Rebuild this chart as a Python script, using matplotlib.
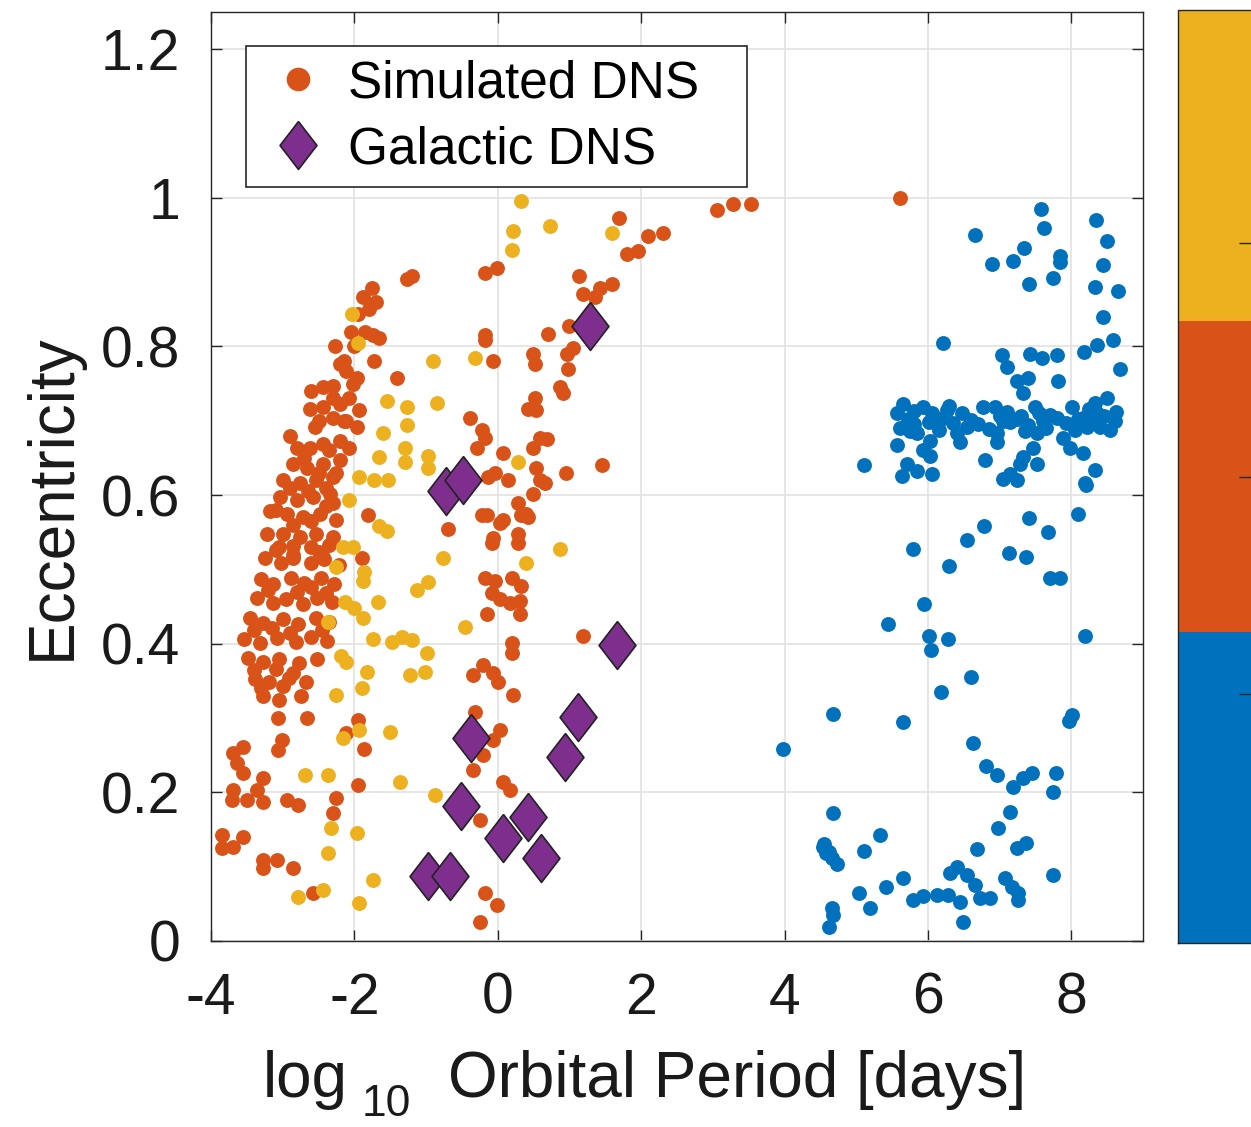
import numpy as np
import matplotlib.pyplot as plt
from matplotlib.lines import Line2D
from matplotlib.colors import ListedColormap, BoundaryNorm
from matplotlib.cm import ScalarMappable

plt.rcParams['font.family'] = ['Liberation Sans', 'DejaVu Sans']
plt.rcParams['axes.unicode_minus'] = False

# simulated DNS, three populations (log10 P [days], eccentricity)
sim_orange = [
    (3.06, 0.984), (3.28, 0.992), (3.53, 0.992), (5.61, 1.000),
    (1.69, 0.973), (2.09, 0.949), (2.30, 0.952), (1.80, 0.925), (1.95, 0.929),
    (1.14, 0.895), (1.42, 0.879), (1.60, 0.884), (1.19, 0.871), (1.35, 0.866),
    (1.00, 0.828), (0.70, 0.817), (-0.18, 0.899), (-0.01, 0.906),
    (-0.18, 0.815), (-0.18, 0.808), (-0.06, 0.780), (0.49, 0.790), (0.52, 0.777),
    (0.96, 0.790), (1.05, 0.798), (0.98, 0.770), (0.87, 0.745), (0.91, 0.738),
    (0.52, 0.731), (0.42, 0.716), (0.54, 0.714),
    (-0.39, 0.704), (-0.22, 0.687), (-0.18, 0.677), (-0.29, 0.663), (0.07, 0.657),
    (0.59, 0.677), (0.68, 0.676), (0.49, 0.664), (1.45, 0.640), (0.95, 0.630),
    (-0.04, 0.630), (-0.14, 0.624), (0.14, 0.620), (0.54, 0.637), (0.59, 0.620),
    (0.66, 0.616), (0.49, 0.602), (0.28, 0.589), (0.40, 0.575), (-0.15, 0.573),
    (0.03, 0.562), (-0.70, 0.555), (0.28, 0.548), (-0.07, 0.542),
    (-0.22, 0.573), (0.07, 0.566), (0.33, 0.573), (0.42, 0.570), (-0.08, 0.536), (0.28, 0.536),
    (-1.81, 0.573), (-1.90, 0.515),
    (-0.18, 0.489), (-0.04, 0.484), (0.20, 0.489), (0.33, 0.478), (-0.08, 0.468),
    (0.03, 0.460), (0.17, 0.455), (0.31, 0.457), (-0.15, 0.440), (0.31, 0.440),
    (0.20, 0.401), (0.20, 0.387), (1.19, 0.411),
    (-0.21, 0.371), (-0.35, 0.358), (-0.07, 0.360), (0.00, 0.348), (0.21, 0.331),
    (-0.32, 0.308), (0.03, 0.284), (-0.07, 0.270), (-0.21, 0.250), (-0.35, 0.230),
    (0.07, 0.214), (0.17, 0.203), (-0.25, 0.163), (-0.18, 0.065), (-0.01, 0.048), (-0.25, 0.026),
    (-1.95, 0.298), (-2.11, 0.280), (-1.86, 0.259), (-1.95, 0.210), (-2.25, 0.192),
    (-2.30, 0.172), (-2.66, 0.300), (-3.07, 0.300), (-3.01, 0.270), (-3.07, 0.257),
    (-3.56, 0.261), (-3.70, 0.253), (-3.64, 0.239), (-3.56, 0.226), (-3.28, 0.219),
    (-3.36, 0.203), (-3.28, 0.187), (-3.70, 0.203), (-3.71, 0.190), (-3.50, 0.190),
    (-2.94, 0.190), (-2.79, 0.183), (-3.84, 0.142), (-3.56, 0.140), (-3.85, 0.125),
    (-3.70, 0.126), (-3.28, 0.109), (-3.08, 0.109), (-3.28, 0.098), (-2.86, 0.098), (-2.58, 0.065),
    (-1.27, 0.891), (-1.20, 0.895), (-1.88, 0.866), (-1.76, 0.878), (-1.95, 0.844),
    (-2.27, 0.801), (-1.74, 0.815), (-1.65, 0.812), (-1.72, 0.781), (-1.41, 0.758),
    (-2.20, 0.777), (-2.11, 0.767), (-1.97, 0.758), (-2.44, 0.745), (-2.30, 0.747),
    (-2.02, 0.750), (-2.62, 0.716), (-2.44, 0.718), (-2.20, 0.723), (-2.07, 0.730),
    (-1.93, 0.714), (-2.55, 0.691), (-2.30, 0.704), (-2.11, 0.700), (-1.97, 0.691),
    (-2.80, 0.664), (-2.62, 0.664), (-2.44, 0.669), (-2.20, 0.673), (-2.07, 0.664),
    (-2.86, 0.642), (-2.66, 0.637), (-2.44, 0.642), (-2.20, 0.647), (-3.00, 0.620),
    (-2.76, 0.616), (-2.53, 0.620), (-2.30, 0.624), (-3.04, 0.597), (-2.80, 0.593),
    (-2.58, 0.597), (-2.34, 0.602), (-3.18, 0.579), (-2.94, 0.575), (-2.72, 0.570),
    (-2.48, 0.575), (-2.25, 0.566), (-3.22, 0.548), (-3.00, 0.548), (-2.76, 0.543),
    (-2.53, 0.548), (-2.30, 0.543),
    (-2.90, 0.680), (-2.70, 0.650), (-2.50, 0.630), (-2.35, 0.660), (-2.90, 0.610),
    (-2.65, 0.605), (-2.40, 0.610), (-3.10, 0.580), (-2.85, 0.560), (-2.60, 0.565),
    (-2.40, 0.585), (-3.05, 0.530), (-2.85, 0.520), (-2.60, 0.530), (-2.45, 0.520),
    (-2.30, 0.590), (-2.25, 0.630), (-2.15, 0.700), (-2.30, 0.730), (-2.50, 0.700),
    (-2.60, 0.740), (-2.15, 0.780), (-2.00, 0.800), (-1.85, 0.820), (-2.05, 0.820),
    (-1.80, 0.850), (-1.70, 0.860),
    (-3.25, 0.515), (-3.02, 0.508), (-2.85, 0.516), (-2.60, 0.509), (-2.43, 0.514), (-2.21, 0.506),
    (-3.30, 0.487), (-3.13, 0.481), (-2.88, 0.489), (-2.70, 0.482), (-2.46, 0.488), (-2.28, 0.480),
    (-3.36, 0.461), (-3.14, 0.455), (-2.95, 0.460), (-2.71, 0.454), (-2.52, 0.462), (-2.31, 0.456),
    (-3.45, 0.434), (-3.27, 0.428), (-3.00, 0.433), (-2.78, 0.427), (-2.54, 0.435), (-2.35, 0.429),
    (-3.54, 0.407), (-3.31, 0.401), (-3.08, 0.408), (-2.82, 0.402), (-2.60, 0.409), (-2.38, 0.403),
    (-3.48, 0.381), (-3.28, 0.375), (-3.05, 0.380), (-2.77, 0.374), (-2.52, 0.379),
    (-3.38, 0.353), (-3.19, 0.348), (-2.91, 0.354), (-2.68, 0.349),
    (-3.27, 0.329), (-3.05, 0.324), (-2.74, 0.330),
    (-3.10, 0.526), (-2.85, 0.531), (-2.50, 0.524), (-2.35, 0.533),
    (-3.20, 0.472), (-2.80, 0.470), (-2.60, 0.476), (-2.40, 0.468),
    (-3.40, 0.418), (-3.15, 0.421), (-2.90, 0.415), (-2.45, 0.419),
    (-3.40, 0.364), (-3.10, 0.366), (-2.85, 0.361), (-3.30, 0.340), (-3.00, 0.343),
]

sim_yellow = [
    (0.32, 0.996), (0.21, 0.956), (0.20, 0.930), (0.73, 0.962), (1.60, 0.953),
    (-2.04, 0.844), (-1.95, 0.805), (-0.91, 0.780), (-0.32, 0.785), (-1.55, 0.726),
    (-1.26, 0.718), (-0.85, 0.724), (-1.26, 0.694), (-1.60, 0.683), (-1.30, 0.664),
    (-1.30, 0.644), (-1.65, 0.651), (-0.98, 0.653), (-0.98, 0.636), (0.28, 0.644),
    (-1.93, 0.624), (-1.72, 0.620), (-1.53, 0.620), (-2.07, 0.593), (-1.65, 0.559),
    (-1.55, 0.552), (0.87, 0.528), (-0.77, 0.515), (0.40, 0.509), (-2.16, 0.530),
    (-2.02, 0.530), (-2.25, 0.503), (-1.86, 0.496), (-1.88, 0.485), (-1.13, 0.472),
    (-0.98, 0.483), (-1.67, 0.456), (-2.13, 0.456), (-2.00, 0.448), (-1.88, 0.434),
    (-2.37, 0.429), (-1.74, 0.407), (-1.47, 0.402), (-1.34, 0.409), (-1.19, 0.405),
    (-0.99, 0.387), (-2.18, 0.384), (-2.11, 0.375), (-1.83, 0.362), (-1.90, 0.340),
    (-2.25, 0.331), (-1.23, 0.358), (-1.02, 0.362), (-0.46, 0.423), (-1.93, 0.284),
    (-2.16, 0.273), (-1.51, 0.281), (-2.69, 0.223), (-2.37, 0.223), (-1.37, 0.214),
    (-0.88, 0.196), (-2.32, 0.152), (-1.97, 0.145), (-2.37, 0.118), (-1.74, 0.082),
    (-2.44, 0.069), (-2.79, 0.059), (-1.93, 0.051),
]

sim_blue = [
    (7.58, 0.985), (7.62, 0.960), (6.66, 0.950), (6.89, 0.911), (7.19, 0.915),
    (7.34, 0.933), (7.84, 0.922), (7.84, 0.913), (7.41, 0.884), (7.74, 0.892),
    (8.34, 0.970), (8.50, 0.942), (8.44, 0.909), (8.33, 0.880), (8.65, 0.874),
    (8.44, 0.839), (8.58, 0.809), (8.36, 0.802), (8.18, 0.792), (8.68, 0.770),
    (6.21, 0.805), (7.03, 0.788), (7.10, 0.772), (7.42, 0.790), (7.59, 0.784),
    (7.80, 0.788), (7.24, 0.754), (7.39, 0.758), (7.33, 0.738), (7.81, 0.754),
    (8.33, 0.724), (8.50, 0.731), (5.11, 0.640), (5.57, 0.667), (5.71, 0.642),
    (5.85, 0.633), (5.64, 0.626), (6.06, 0.629), (6.80, 0.647), (8.19, 0.616),
    (8.33, 0.634),
    (5.65, 0.723), (5.57, 0.711), (5.93, 0.718), (6.06, 0.710), (6.26, 0.714),
    (6.47, 0.710), (6.77, 0.718), (6.93, 0.718), (7.05, 0.700), (7.24, 0.703),
    (7.49, 0.718), (7.60, 0.700), (7.80, 0.704), (8.01, 0.718), (8.16, 0.704),
    (8.36, 0.710), (8.61, 0.700), (8.54, 0.687), (5.61, 0.690), (5.85, 0.683),
    (6.03, 0.673), (6.40, 0.683), (6.96, 0.683), (7.52, 0.683), (7.88, 0.677),
    (8.22, 0.691), (5.93, 0.660), (6.03, 0.653), (6.45, 0.671), (6.96, 0.671),
    (7.46, 0.664), (7.98, 0.664), (8.16, 0.656), (7.33, 0.651), (7.52, 0.642),
    (7.28, 0.642), (7.14, 0.629), (7.05, 0.622), (7.24, 0.620),
    (5.72, 0.702), (5.80, 0.696), (6.01, 0.699), (6.18, 0.703), (6.35, 0.697),
    (6.60, 0.701), (6.70, 0.695), (7.00, 0.706), (7.15, 0.698), (7.30, 0.707),
    (7.40, 0.694), (7.70, 0.708), (7.92, 0.697), (8.10, 0.703), (8.28, 0.699),
    (8.45, 0.706), (8.62, 0.712), (5.75, 0.686), (6.15, 0.688), (6.55, 0.692),
    (6.85, 0.689), (7.35, 0.686), (7.65, 0.690), (8.05, 0.688), (8.40, 0.692),
    (5.80, 0.713), (6.30, 0.720), (7.10, 0.712), (7.55, 0.711), (8.25, 0.716),
    (8.20, 0.613), (8.09, 0.575), (7.41, 0.569), (7.67, 0.550), (6.78, 0.559),
    (6.54, 0.539), (5.79, 0.528), (6.29, 0.504), (7.13, 0.522), (7.37, 0.517),
    (7.70, 0.489), (7.84, 0.489), (5.94, 0.453), (5.44, 0.427), (6.01, 0.410),
    (6.28, 0.406), (6.04, 0.392), (8.19, 0.410), (6.60, 0.355), (6.18, 0.335),
    (4.67, 0.306), (5.65, 0.294), (8.01, 0.304), (7.97, 0.296), (3.98, 0.258),
    (6.63, 0.267), (6.81, 0.235), (6.96, 0.224), (7.19, 0.207), (7.33, 0.219),
    (7.45, 0.226), (7.79, 0.226), (7.74, 0.200), (4.67, 0.172), (7.14, 0.173),
    (6.98, 0.152), (5.33, 0.142), (5.11, 0.121), (6.68, 0.124), (7.24, 0.125),
    (7.37, 0.132), (4.53, 0.126), (4.58, 0.118), (4.66, 0.112), (4.73, 0.103),
    (4.55, 0.131), (4.62, 0.120), (7.74, 0.089), (5.65, 0.085), (5.41, 0.073),
    (5.04, 0.065), (5.19, 0.044), (5.79, 0.055), (5.93, 0.060), (6.13, 0.062),
    (6.28, 0.062), (6.31, 0.091), (6.40, 0.099), (6.54, 0.089), (6.66, 0.075),
    (6.45, 0.052), (6.73, 0.058), (6.86, 0.058), (7.07, 0.085), (7.17, 0.073),
    (7.26, 0.065), (7.26, 0.055), (6.49, 0.026), (4.66, 0.044), (4.67, 0.035),
    (4.62, 0.019),
]

# observed galactic double neutron stars
gal_logp = [1.29, -0.72, -0.48, 1.66, 1.12, -0.37, 0.94, -0.51, 0.42, 0.07, 0.60, -0.97, -0.67]
gal_ecc = [0.828, 0.606, 0.620, 0.398, 0.302, 0.273, 0.247, 0.181, 0.167, 0.138, 0.112, 0.087, 0.087]

xticks = [-4, -2, 0, 2, 4, 6, 8]
yticks = [0, 0.2, 0.4, 0.6, 0.8, 1.0, 1.2]
ytick_labels = ['0', '0.2', '0.4', '0.6', '0.8', '1', '1.2']
cbar_ticks = [0.8, 1.5, 2.25]

c_blue = '#0072BD'
c_orange = '#D95319'
c_yellow = '#EDB120'
c_purple = '#7E2F8E'
c_axis = '#262626'
c_text = '#1a1a1a'

diamond = [(0, 1), (0.77, 0), (0, -1), (-0.77, 0), (0, 1)]

fig = plt.figure(figsize=(12.51, 11.27), dpi=100)
ax = fig.add_axes([211 / 1251, (1127 - 941) / 1127, 932 / 1251, 929 / 1127])

o = np.array(sim_orange)
yl = np.array(sim_yellow)
b = np.array(sim_blue)
ax.scatter(o[:, 0], o[:, 1], s=115, c=c_orange, linewidths=0, zorder=2)
ax.scatter(yl[:, 0], yl[:, 1], s=115, c=c_yellow, linewidths=0, zorder=2)
ax.scatter(b[:, 0], b[:, 1], s=115, c=c_blue, linewidths=0, zorder=2)
ax.scatter(gal_logp, gal_ecc, s=1190, marker=diamond, c=c_purple,
           edgecolors='#222222', linewidths=1.2, zorder=4)

ax.set_xlim(-4, 9)
ax.set_ylim(0, 1.25)
ax.set_xticks(xticks)
ax.set_yticks(yticks)
ax.set_yticklabels(ytick_labels)
ax.grid(True, color='#e2e2e2', lw=1.2)
ax.set_axisbelow(True)
ax.tick_params(direction='in', length=8, width=1, top=True, right=True,
               labelsize=41, colors=c_axis, labelcolor=c_text)
ax.tick_params(axis='x', pad=22)
ax.tick_params(axis='y', pad=22)
for sp in ax.spines.values():
    sp.set_color(c_axis)
    sp.set_linewidth(1.0)

# x label in MATLAB style: "log _10 Orbital Period [days]"
ax.text(0.0558, -0.168, 'log', transform=ax.transAxes, fontsize=46,
        ha='left', va='baseline', color=c_text)
ax.text(0.162, -0.188, '10', transform=ax.transAxes, fontsize=32,
        ha='left', va='baseline', color=c_text)
ax.text(0.254, -0.168, 'Orbital Period [days]', transform=ax.transAxes, fontsize=46,
        ha='left', va='baseline', color=c_text)

ax.set_ylabel('Eccentricity', fontsize=46, color=c_text)
ax.yaxis.set_label_coords(-0.138, 0.478)

handles = [
    Line2D([], [], ls='none', marker='o', ms=17, color=c_orange, mew=0),
    Line2D([], [], ls='none', marker=diamond, ms=34.5, mfc=c_purple, mec='#222222', mew=1.2),
]
leg = ax.legend(handles, ['Simulated DNS', 'Galactic DNS'], loc='upper left',
                bbox_to_anchor=(0.0376, 0.0, 0.5376, 0.963), mode='expand',
                borderaxespad=0, fontsize=37,
                frameon=True, fancybox=False, edgecolor=c_axis, framealpha=1,
                handlelength=1.52, handletextpad=0.21, labelspacing=0.33, borderpad=0.25)
leg.get_frame().set_linewidth(1.2)

# colorbar, cut off by the right edge of the figure
cax = fig.add_axes([1178 / 1251, (1127 - 943) / 1127, 75 / 1251, 933 / 1127])
cmap = ListedColormap([c_blue, c_orange, c_yellow])
norm = BoundaryNorm([0, 1, 2, 3], 3)
cb = fig.colorbar(ScalarMappable(norm=norm, cmap=cmap), cax=cax, ticks=cbar_ticks)
cb.ax.tick_params(direction='in', length=10, width=1, colors=c_axis, labelright=False)
cb.outline.set_edgecolor(c_axis)
cb.outline.set_linewidth(1.0)

fig.savefig('out.png', dpi=100)
